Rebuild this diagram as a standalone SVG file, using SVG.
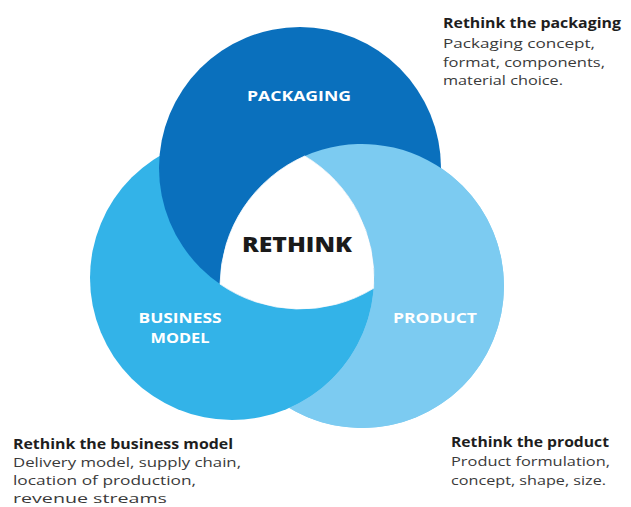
<svg xmlns="http://www.w3.org/2000/svg" width="631" height="507" viewBox="0 0 631 507">
  <style>
    .lbl { font-family: "Open Sans", "Liberation Sans", sans-serif; font-weight: 700; fill: #ffffff; text-anchor: middle; }
    .core { font-family: "Open Sans", "Liberation Sans", sans-serif; font-weight: 800; fill: #1a1a1a; text-anchor: middle; }
    .head { font-family: "Open Sans", "Liberation Sans", sans-serif; font-weight: 700; fill: #1e1e1e; font-size: 13.5px; }
    .body { font-family: "Open Sans", "Liberation Sans", sans-serif; font-weight: 400; fill: #3a3a3a; font-size: 13.5px; }
    .light { fill: #7ccbf1; }
    .mid { fill: #33b3e8; }
    .dark { fill: #0a70bd; }
  </style>

  <rect width="631" height="507" fill="#ffffff"/>

  <!-- product circle (light blue), lowest layer -->
  <g id="product">
    <circle class="light" cx="362" cy="286" r="142"/>
  </g>

  <!-- business model circle (mid blue), over the product circle -->
  <g id="business-model">
    <circle class="mid" cx="232" cy="278" r="142"/>
  </g>

  <!-- packaging circle (dark blue), over the business model circle -->
  <g id="packaging">
    <circle class="dark" cx="300" cy="168" r="141"/>
  </g>

  <!-- product circle minus business model: light blue lies over packaging -->
  <g id="product-front">
    <path class="light" d="M304.8 156.0 A142 142 0 1 1 289.2 408.0 A142 142 0 0 0 304.8 156.0 Z"/>
  </g>

  <!-- shared centre of all three circles -->
  <g id="rethink">
    <path fill="#ffffff" stroke="#ffffff" stroke-width="0.8" d="M304.8 156.0 A142 142 0 0 1 373.6 288.3 A141 141 0 0 1 220.0 284.1 A142 142 0 0 1 304.8 156.0 Z"/>
    <text class="core" x="297" y="252" font-size="21" textLength="110" lengthAdjust="spacingAndGlyphs">RETHINK</text>
  </g>

  <!-- circle labels -->
  <g id="labels">
    <text class="lbl" x="299" y="101" font-size="15" textLength="104" lengthAdjust="spacingAndGlyphs">PACKAGING</text>
    <text class="lbl" x="180" y="323" font-size="15" textLength="83" lengthAdjust="spacingAndGlyphs">BUSINESS</text>
    <text class="lbl" x="180" y="343" font-size="15" textLength="59" lengthAdjust="spacingAndGlyphs">MODEL</text>
    <text class="lbl" x="435" y="323" font-size="15" textLength="84" lengthAdjust="spacingAndGlyphs">PRODUCT</text>
  </g>

  <!-- side notes -->
  <g id="note-packaging">
    <text class="head" x="443" y="28" textLength="178" lengthAdjust="spacingAndGlyphs">Rethink the packaging</text>
    <text class="body" x="443" y="48" textLength="152" lengthAdjust="spacingAndGlyphs">Packaging concept,</text>
    <text class="body" x="443" y="67" textLength="162" lengthAdjust="spacingAndGlyphs">format, components,</text>
    <text class="body" x="443" y="85" textLength="120" lengthAdjust="spacingAndGlyphs">material choice.</text>
  </g>

  <g id="note-business-model">
    <text class="head" x="13" y="449" textLength="220" lengthAdjust="spacingAndGlyphs">Rethink the business model</text>
    <text class="body" x="13" y="467" textLength="228" lengthAdjust="spacingAndGlyphs">Delivery model, supply chain,</text>
    <text class="body" x="13" y="485" textLength="183" lengthAdjust="spacingAndGlyphs">location of production,</text>
    <text class="body" x="13" y="503" textLength="154" lengthAdjust="spacingAndGlyphs">revenue streams</text>
  </g>

  <g id="note-product">
    <text class="head" x="451" y="447" textLength="158" lengthAdjust="spacingAndGlyphs">Rethink the product</text>
    <text class="body" x="451" y="466" textLength="159" lengthAdjust="spacingAndGlyphs">Product formulation,</text>
    <text class="body" x="451" y="485" textLength="155" lengthAdjust="spacingAndGlyphs">concept, shape, size.</text>
  </g>
</svg>
